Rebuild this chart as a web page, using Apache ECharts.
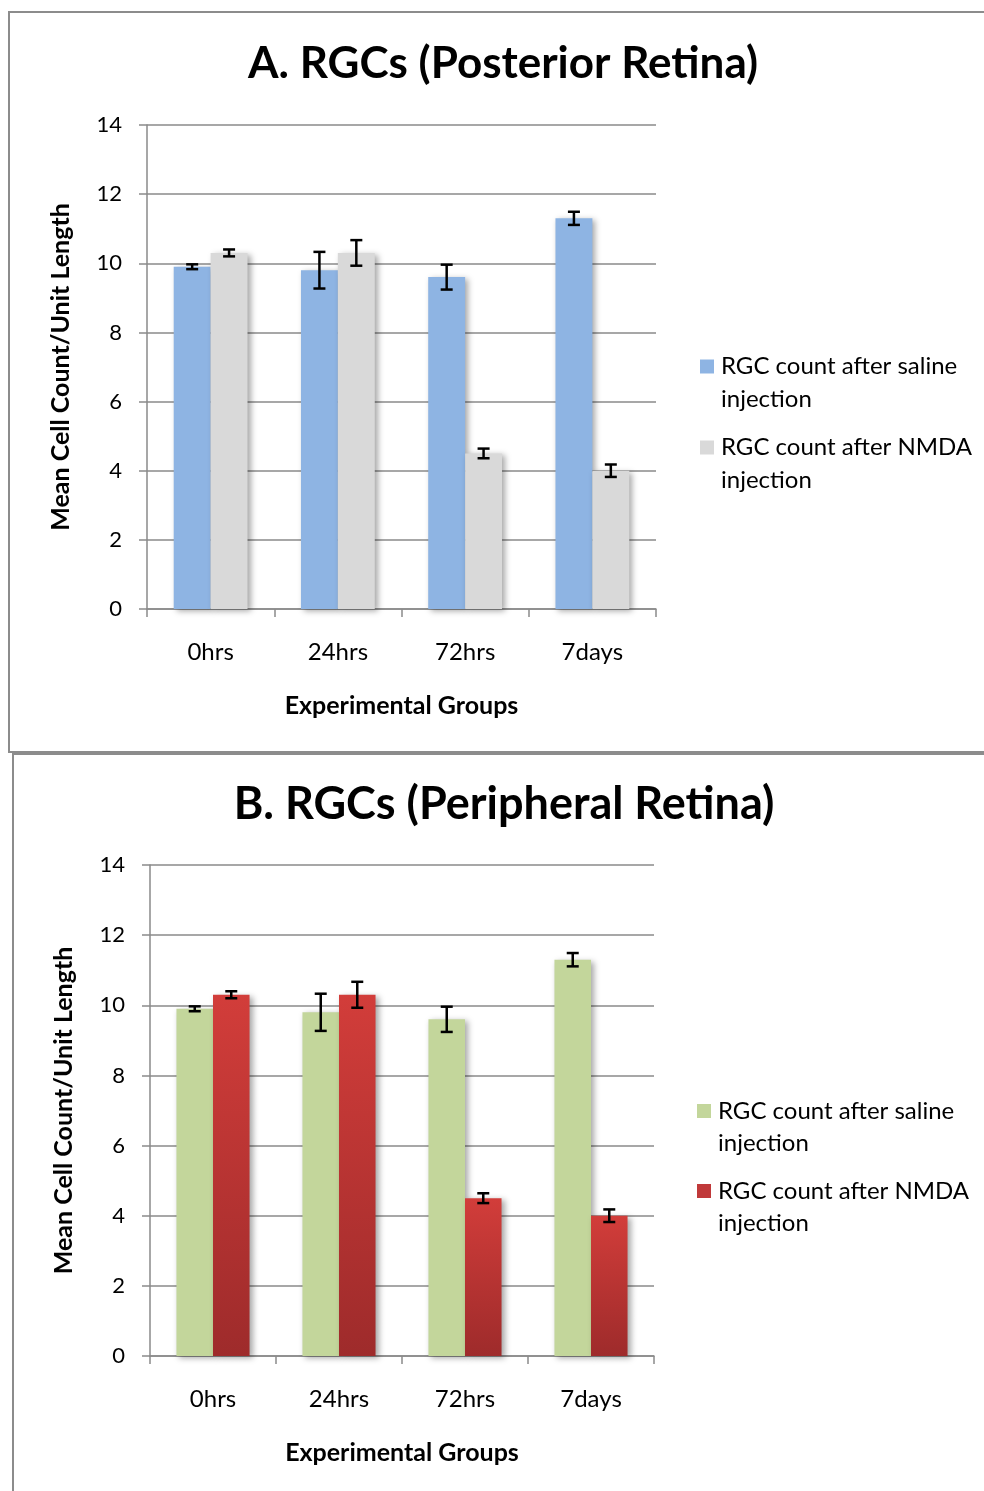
<!DOCTYPE html>
<html><head><meta charset="utf-8">
<script src="https://cdn.jsdelivr.net/npm/echarts@6/dist/echarts.min.js"></script>
<style>html,body{margin:0;padding:0;background:#fff}#c{width:984px;height:1491px}</style>
</head><body><div id="c"></div>
<script>
const categories = ['0hrs', '24hrs', '72hrs', '7days'];
const salineValues = [9.9, 9.8, 9.6, 11.3];
const nmdaValues = [10.3, 10.3, 4.5, 4.0];
const salineErrors = [0.07, 0.53, 0.36, 0.19];
const nmdaErrors = [0.1, 0.37, 0.14, 0.18];
const yTicks = [0, 2, 4, 6, 8, 10, 12, 14];
const seriesNames = ['RGC count after saline injection', 'RGC count after NMDA injection'];
const panelTitles = ['A. RGCs (Posterior Retina)', 'B. RGCs (Peripheral Retina)'];
const yAxisTitle = 'Mean Cell Count/Unit Length';
const xAxisTitle = 'Experimental Groups';

const FONT = 'Lato';
const GAP = 0.42;
const gridCol = '#8a8a8a';

const chart = echarts.init(document.getElementById('c'), null, {renderer: 'canvas'});

const grids = [
  {left: 147, top: 125, width: 509, height: 484},
  {left: 150, top: 865, width: 504, height: 491}
];

function xAxisFor(i) {
  return {
    type: 'category', gridIndex: i, data: categories,
    axisLine: {lineStyle: {color: gridCol, width: 1.5}},
    axisTick: {show: true, length: 8, lineStyle: {color: gridCol, width: 1.5}},
    axisLabel: {color: '#000', fontSize: 24, fontFamily: FONT, margin: 31},
    name: xAxisTitle, nameLocation: 'middle', nameGap: 84,
    nameTextStyle: {color: '#000', fontSize: 25, fontWeight: 'bold', fontFamily: FONT}
  };
}
function yAxisFor(i) {
  return {
    type: 'value', gridIndex: i, min: yTicks[0], max: yTicks[yTicks.length - 1],
    interval: yTicks[1] - yTicks[0],
    axisLine: {show: true, lineStyle: {color: gridCol, width: 1.5}},
    axisTick: {show: true, length: 8, lineStyle: {color: gridCol, width: 1.5}},
    splitLine: {lineStyle: {color: gridCol, width: 1.5}},
    axisLabel: {color: '#000', fontSize: 22, fontFamily: FONT, margin: 25},
    name: yAxisTitle, nameLocation: 'middle', nameGap: 74,
    nameTextStyle: {color: '#000', fontSize: 25, fontWeight: 'bold', fontFamily: FONT}
  };
}

const shadow = {shadowBlur: 6, shadowColor: 'rgba(0,0,0,0.35)', shadowOffsetX: 3, shadowOffsetY: 2};

function barSeries(name, gi, values, color) {
  return {
    type: 'bar', name: name, xAxisIndex: gi, yAxisIndex: gi, data: values,
    barGap: '0%', barCategoryGap: (GAP * 100) + '%',
    itemStyle: Object.assign({color: color}, shadow),
    emphasis: {disabled: true}
  };
}

function errorSeries(gi, sIdx, values, errors) {
  return {
    type: 'custom', xAxisIndex: gi, yAxisIndex: gi, z: 10, silent: true,
    encode: {x: 0, y: [1, 2]},
    data: values.map((v, i) => [i, v - errors[i], v + errors[i]]),
    renderItem: function (params, api) {
      const cat = api.value(0);
      const lo = api.coord([cat, api.value(1)]);
      const hi = api.coord([cat, api.value(2)]);
      const bw = api.size([1, 0])[0] * (1 - GAP) / 2;
      const x = lo[0] + (sIdx === 0 ? -bw / 2 : bw / 2);
      const cap = 6;
      const st = {stroke: '#000', lineWidth: 2.5};
      return {type: 'group', children: [
        {type: 'line', shape: {x1: x, y1: lo[1], x2: x, y2: hi[1]}, style: st},
        {type: 'line', shape: {x1: x - cap, y1: lo[1], x2: x + cap, y2: lo[1]}, style: st},
        {type: 'line', shape: {x1: x - cap, y1: hi[1], x2: x + cap, y2: hi[1]}, style: st}
      ]};
    }
  };
}

const redGrad = new echarts.graphic.LinearGradient(0, 0, 0, 1, [
  {offset: 0, color: '#d23d3a'}, {offset: 1, color: '#9e2b2b'}
]);

function legendFor(left, top, lh, gap, names) {
  return {
    orient: 'vertical', left: left, top: top, data: names, padding: 0,
    icon: 'rect', itemWidth: 14, itemHeight: 14, itemGap: gap,
    formatter: n => '\u00a0\n' + n.trim().replace(' injection', '\ninjection'),
    textStyle: {color: '#000', fontSize: 24, fontFamily: FONT, lineHeight: lh, padding: [0, 0, 0, 2]},
    selectedMode: false
  };
}

const option = {
  animation: false,
  backgroundColor: '#fff',
  title: [
    {text: panelTitles[0], left: 498, top: 37, textAlign: 'center',
     textStyle: {fontSize: 44, fontWeight: 'bold', fontFamily: FONT, color: '#000'}},
    {text: panelTitles[1], left: 499, top: 777, textAlign: 'center',
     textStyle: {fontSize: 45, fontWeight: 'bold', fontFamily: FONT, color: '#000'}}
  ],
  legend: [
    legendFor(700, 317, 33, -18, [{name: seriesNames[0], itemStyle: {color: '#8eb4e3'}}, {name: seriesNames[1], itemStyle: {color: '#d9d9d9'}}]),
    legendFor(697, 1063, 32, -16, [{name: seriesNames[0] + ' ', itemStyle: {color: '#c3d69b'}}, {name: seriesNames[1] + ' ', itemStyle: {color: '#c0393a'}}])
  ],
  grid: grids,
  xAxis: [xAxisFor(0), xAxisFor(1)],
  yAxis: [yAxisFor(0), yAxisFor(1)],
  graphic: [
    {type: 'rect', shape: {x: 9, y: 12, width: 990, height: 740}, style: {fill: 'none', stroke: '#8c8c8c', lineWidth: 2}, z: -1},
    {type: 'rect', shape: {x: 13, y: 754, width: 990, height: 760}, style: {fill: 'none', stroke: '#8c8c8c', lineWidth: 2}, z: -1}
  ],
  series: [
    barSeries(seriesNames[0], 0, salineValues, '#8eb4e3'),
    barSeries(seriesNames[1], 0, nmdaValues, '#d9d9d9'),
    errorSeries(0, 0, salineValues, salineErrors),
    errorSeries(0, 1, nmdaValues, nmdaErrors),
    barSeries(seriesNames[0] + ' ', 1, salineValues, '#c3d69b'),
    barSeries(seriesNames[1] + ' ', 1, nmdaValues, redGrad),
    errorSeries(1, 0, salineValues, salineErrors),
    errorSeries(1, 1, nmdaValues, nmdaErrors)
  ]
};
chart.setOption(option);
</script></body></html>
